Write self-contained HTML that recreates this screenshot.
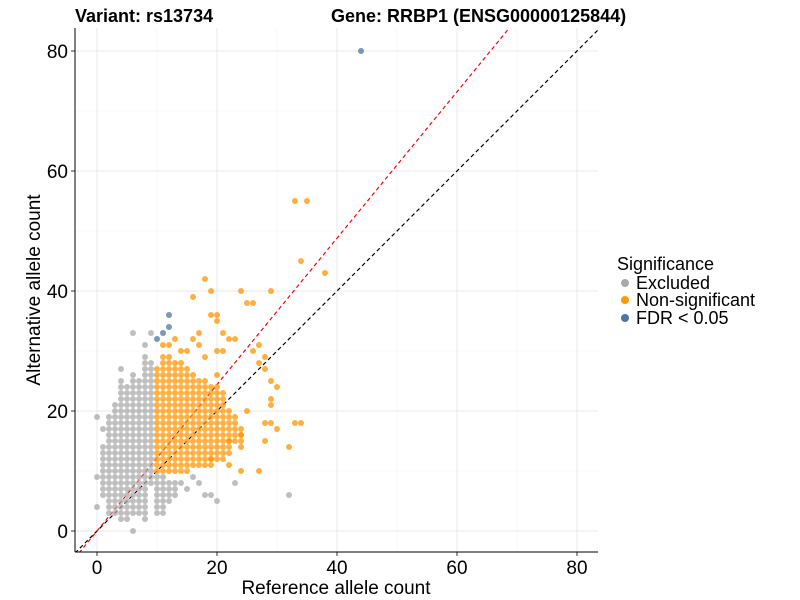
<!DOCTYPE html>
<html><head><meta charset="utf-8"><style>
body{margin:0;background:#fff;}
svg{display:block;font-family:"Liberation Sans",Arial,sans-serif;}
</style></head><body>
<svg id="chart" width="800" height="600" viewBox="0 0 800 600">
<text x="75" y="22" font-size="18" font-weight="bold">Variant: rs13734</text>
<text x="331" y="22" font-size="18" font-weight="bold">Gene: RRBP1 (ENSG00000125844)</text>
<defs><clipPath id="clip"><rect x="75" y="28" width="523" height="524"/></clipPath></defs>
<g id="grid"></g>
<g id="lines" clip-path="url(#clip)"></g>
<g id="pts" clip-path="url(#clip)"></g>
<g id="axes"></g>
<text x="336" y="594" font-size="19" text-anchor="middle">Reference allele count</text>
<text transform="translate(40,290) rotate(-90)" font-size="19" text-anchor="middle">Alternative allele count</text>
<g>
<text x="617" y="270" font-size="18">Significance</text>
<circle cx="625" cy="283" r="4" fill="#aaaaaa"/>
<text x="636" y="289" font-size="18">Excluded</text>
<circle cx="625" cy="300" r="4" fill="#ff9900"/>
<text x="636" y="306" font-size="18">Non-significant</text>
<circle cx="625" cy="318" r="4" fill="#4a76a8"/>
<text x="636" y="324" font-size="18">FDR &lt; 0.05</text>
</g>
</svg>
<script>
// data
const xTicks = [0, 20, 40, 60, 80];
const yTicks = [0, 20, 40, 60, 80];
const minorTicks = [10, 30, 50, 70];
// gray column ranges [x, ymin, ymax]
const grayRanges = [[1,6,14],[2,3,19],[3,3,21],[4,2,25],[5,2,24],[6,3,26],[7,3,25],[8,2,29],[9,8,28],[10,3,9],[11,3,9],[12,5,8],[13,6,8]];
const graySingles = [[0,19],[0,9],[0,4],[6,33],[6,0],[14,8],[15,7],[16,9],[17,8],[18,6],[19,6],[20,5],[23,8],[32,6],[9,33],[1,17],[4,27],[8,31]];
const orangeRanges = [[10,10,27],[11,10,29],[12,10,29],[13,10,28],[14,10,28],[15,10,27],[16,11,26],[17,11,25],[18,11,25],[19,11,24],[20,12,24],[21,12,23],[22,13,20],[23,15,19],[24,15,17]];
const orangeSingles = [[18,42],[16,39],[19,40],[24,40],[29,40],[25,38],[26,38],[19,36],[20,36],[20,35],[17,33],[21,33],[16,32],[22,32],[23,32],[17,31],[27,31],[20,30],[21,30],[26,30],[27,28],[28,29],[28,27],[29,25],[30,24],[29,22],[29,21],[25,20],[28,18],[29,18],[33,18],[34,18],[30,17],[32,14],[28,15],[24,16],[22,15],[24,14],[24,10],[27,10],[22,11],[19,12],[33,55],[35,55],[34,45],[38,43],[13,32],[12,31],[15,30],[18,29],[14,30],[11,31],[20,26]];
const blueSingles = [[10,32],[11,33],[12,34],[12,36],[44,80]];
const redSlope = 1.22;

const NS='http://www.w3.org/2000/svg';
const X0=-3.67, X1=83.5, Y0=-3.5, Y1=83.8;
const sx=v=>97+6*v, sy=v=>531-6*v;
function mk(tag,attrs,parent){const e=document.createElementNS(NS,tag);for(const k in attrs)e.setAttribute(k,attrs[k]);parent.appendChild(e);return e;}
const grid=document.getElementById('grid'), axes=document.getElementById('axes'), lines=document.getElementById('lines'), pts=document.getElementById('pts');
minorTicks.forEach(t=>{
  let a=mk('line',{x1:sx(t),x2:sx(t),y1:28,y2:552,stroke:'#f2f2f2','stroke-width':0.6},grid);
  
  
  let b=mk('line',{x1:75,x2:598,y1:sy(t),y2:sy(t),stroke:'#f2f2f2','stroke-width':0.6},grid);
  
  
});
xTicks.forEach(t=>{
  let g=mk('line',{x1:sx(t),x2:sx(t),y1:28,y2:552,stroke:'#e8e8e8','stroke-width':1},grid);
  
  
  let tk=mk('line',{x1:sx(t),x2:sx(t),y1:552,y2:556,stroke:'#333'},axes);
  
  
  let tx=mk('text',{x:sx(t),y:574,'font-size':19,'text-anchor':'middle'},axes);tx.textContent=t;
  
  
});
yTicks.forEach(t=>{
  let g=mk('line',{x1:75,x2:598,y1:sy(t),y2:sy(t),stroke:'#e8e8e8','stroke-width':1},grid);
  
  
  let tk=mk('line',{x1:71,x2:75,y1:sy(t),y2:sy(t),stroke:'#333'},axes);
  
  
  let tx=mk('text',{x:68,y:sy(t)+7,'font-size':19,'text-anchor':'end'},axes);tx.textContent=t;
  
  
});
let ax=mk('line',{x1:75,x2:75,y1:28,y2:552,stroke:'#000','stroke-width':1},axes);


let ay=mk('line',{x1:75,x2:598,y1:552,y2:552,stroke:'#000','stroke-width':1},axes);



function dot(x,y,fill,name){
  const c=mk('circle',{cx:sx(x),cy:sy(y),r:3,fill:fill,'fill-opacity':0.75},pts);
  
  
}
grayRanges.forEach(([x,a,b])=>{for(let y=a;y<=b;y++)dot(x,y,'#aaaaaa','point-excluded');});
graySingles.forEach(([x,y])=>dot(x,y,'#aaaaaa','point-excluded'));
orangeRanges.forEach(([x,a,b])=>{for(let y=a;y<=b;y++)dot(x,y,'#ff9500','point-nonsignificant');});
orangeSingles.forEach(([x,y])=>dot(x,y,'#ff9500','point-nonsignificant'));
blueSingles.forEach(([x,y])=>dot(x,y,'#4a76a8','point-fdr'));

let l1=mk('line',{x1:sx(X0),y1:sy(X0),x2:sx(X1),y2:sy(X1),stroke:'#000','stroke-width':1.2,'stroke-dasharray':'4 3'},lines);


let l2=mk('line',{x1:sx(-3),y1:sy(-3*redSlope),x2:sx(Y1/redSlope),y2:sy(Y1),stroke:'#ff0000','stroke-width':1.2,'stroke-dasharray':'4 3'},lines);


</script>
</body></html>
